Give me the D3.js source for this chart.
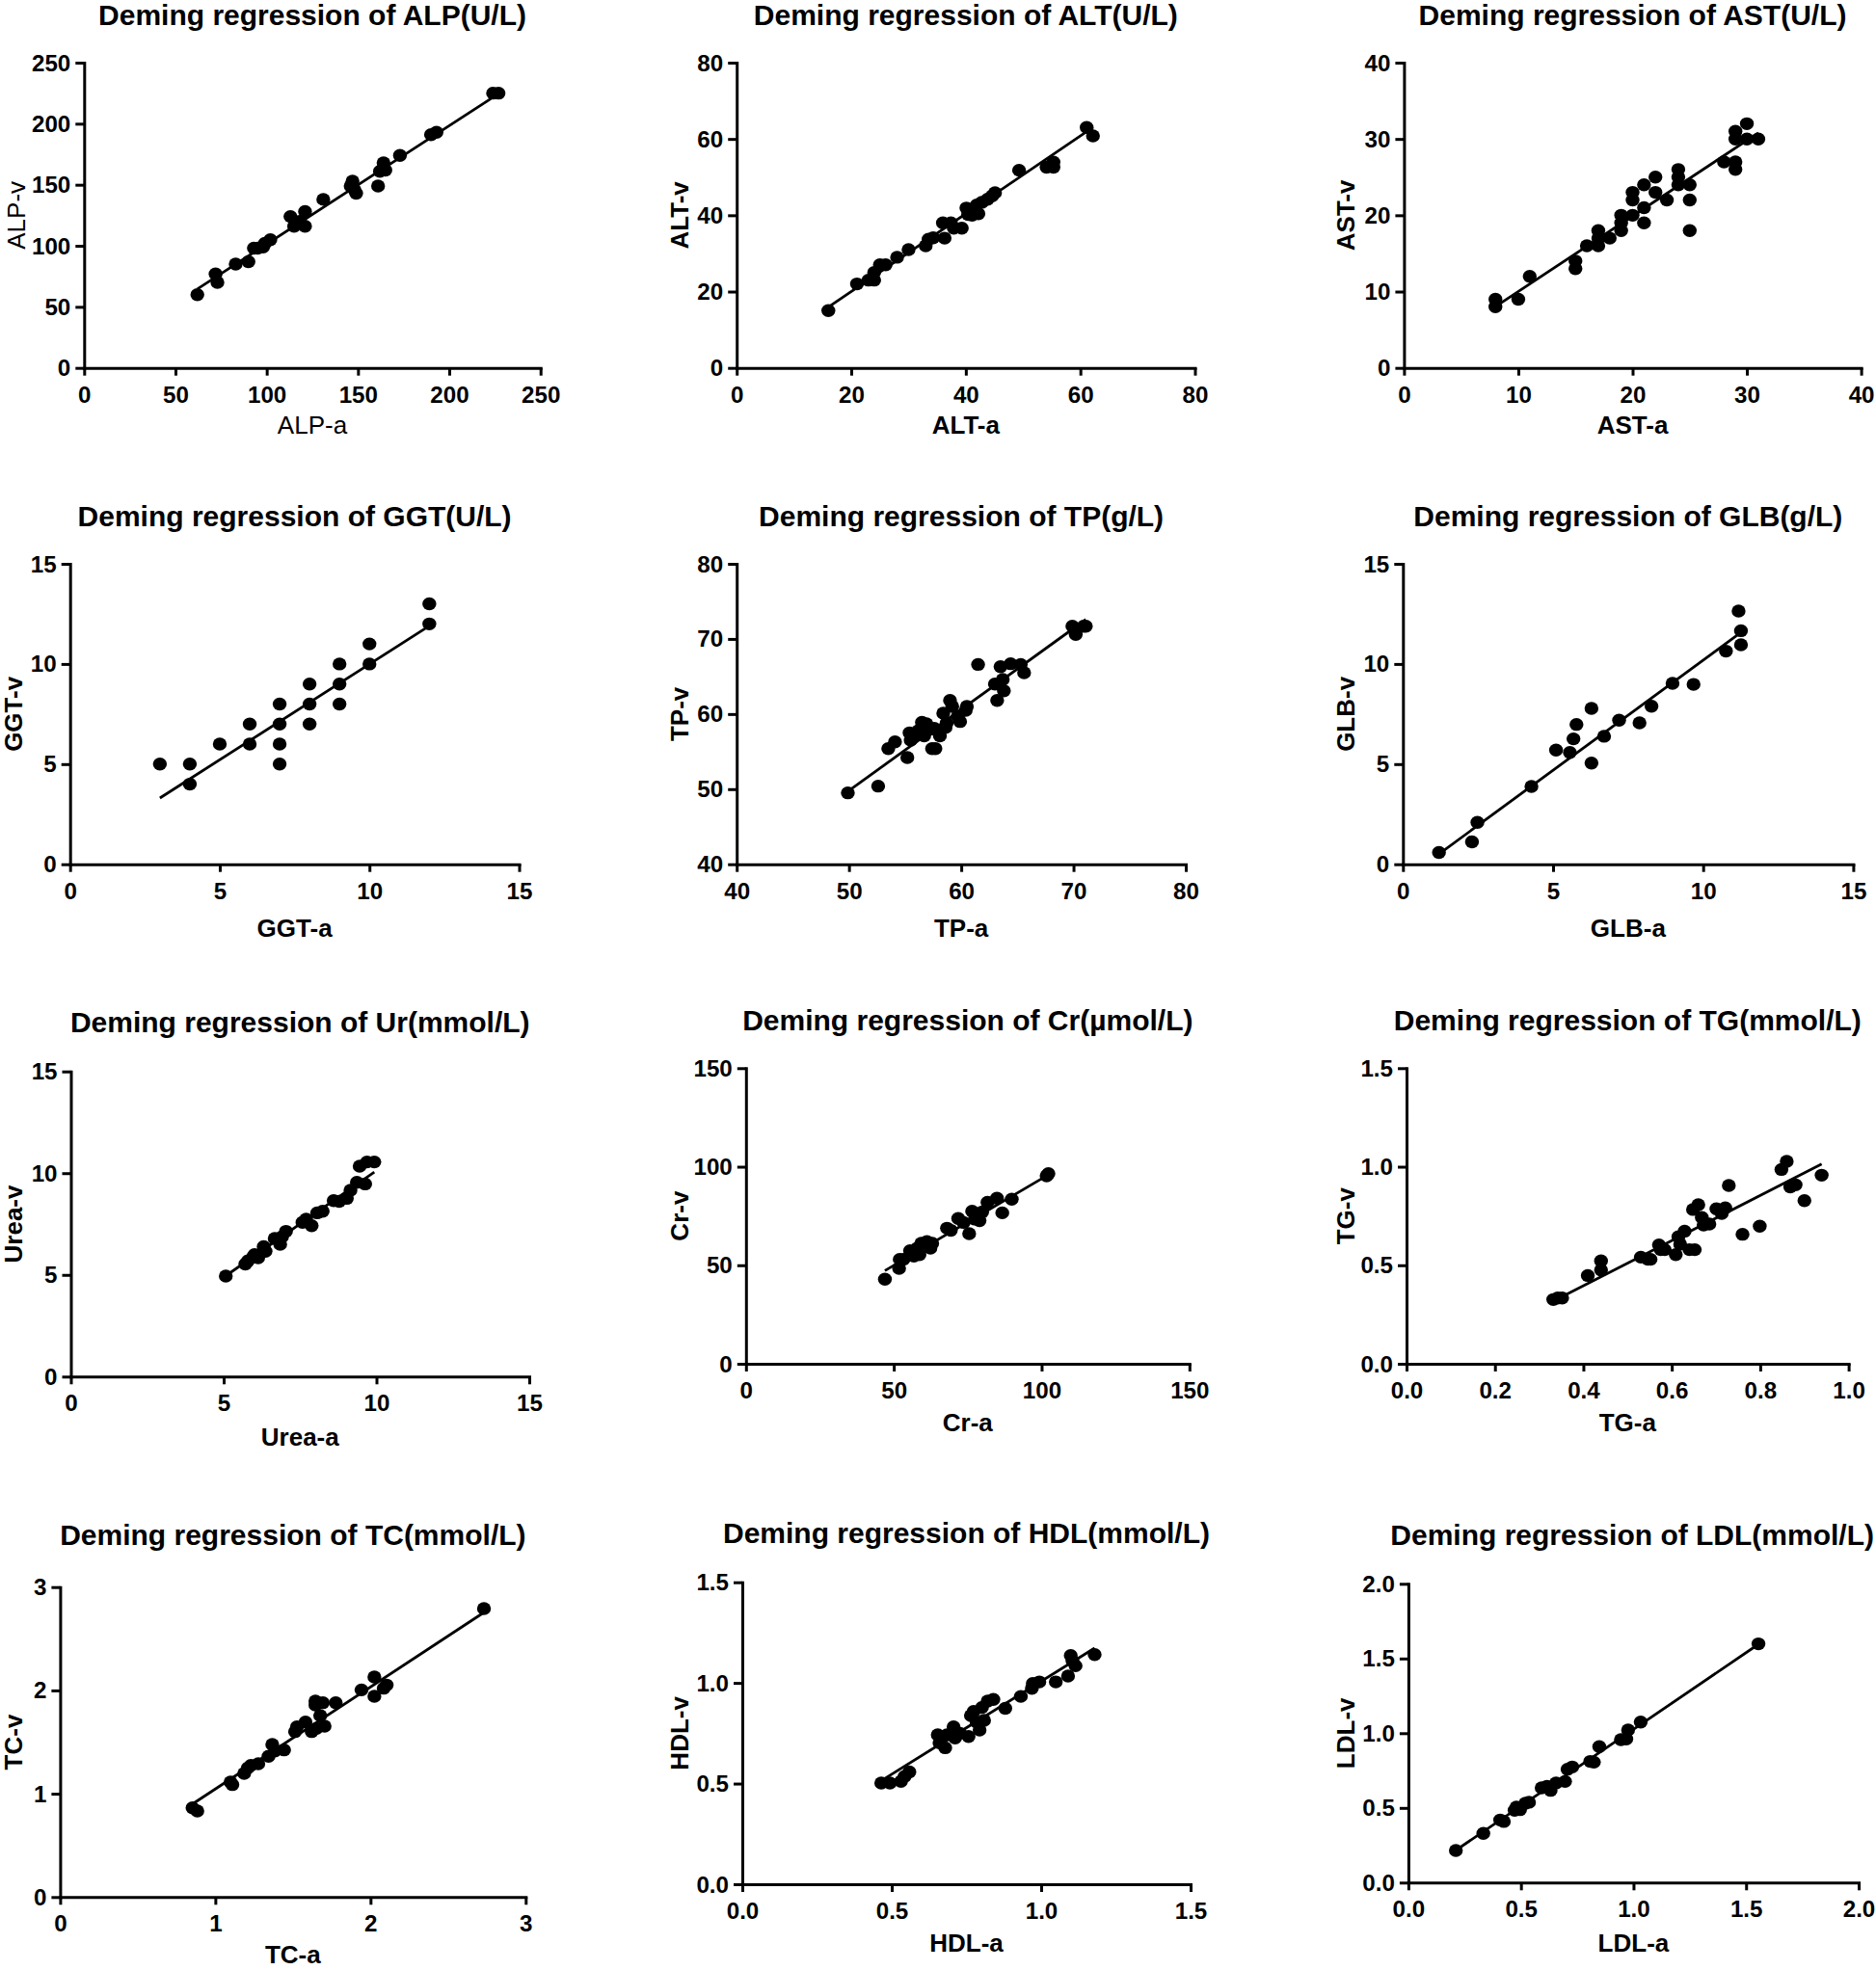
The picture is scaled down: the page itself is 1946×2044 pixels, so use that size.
<!DOCTYPE html>
<html>
<head>
<meta charset="utf-8">
<script src="https://cdn.jsdelivr.net/npm/d3@7"></script>
<style>
  html, body { margin: 0; padding: 0; background: #fff; }
  svg { display: block; }
  text { font-family: "Liberation Sans", Arial, sans-serif; fill: #000; }
</style>
</head>
<body>
<svg id="chart" width="1946" height="2044"></svg>
<script>
// ---------------- DATA ----------------
const titles = [
  "Deming regression of ALP(U/L)", "Deming regression of ALT(U/L)", "Deming regression of AST(U/L)",
  "Deming regression of GGT(U/L)", "Deming regression of TP(g/L)", "Deming regression of GLB(g/L)",
  "Deming regression of Ur(mmol/L)", "Deming regression of Cr(\u00b5mol/L)", "Deming regression of TG(mmol/L)",
  "Deming regression of TC(mmol/L)", "Deming regression of HDL(mmol/L)", "Deming regression of LDL(mmol/L)"
];
const xLabels = ["ALP-a","ALT-a","AST-a","GGT-a","TP-a","GLB-a","Urea-a","Cr-a","TG-a","TC-a","HDL-a","LDL-a"];
const yLabels = ["ALP-v","ALT-v","AST-v","GGT-v","TP-v","GLB-v","Urea-v","Cr-v","TG-v","TC-v","HDL-v","LDL-v"];

const ALP_a = [62,72,73,83,90,93,95,98,99,102,113,115,118,121,121,131,147,148,149,146,161,162,164,165,173,190,193,224,227];
const ALP_v = [60,77,70,85,87,98,98,99,102,105,124,116,120,128,116,138,153,146,143,149,149,161,168,162,174,191,193,225,225];
const ALP_fit = [0.97, 4.4];

const ALT_a = [16,21,23,24,24,25,26,28,30,33,33.5,34.3,36.3,36,37.4,37.9,39.3,40.1,40.4,41.1,42.2,41.9,42.8,43.8,44.6,45.1,49.3,54.1,55.3,55.3,61.1,62.2];
const ALT_v = [15,22,23,25,23,27,27,29,31,32,33.7,34.1,34,38,38,36.6,36.6,41.9,40.2,40,40.4,42.7,43.4,44.2,45.1,45.9,51.8,52.6,52.6,53.9,63,60.8];
const ALT_fit = [1.02, -0.4];

const AST_a = [8,8,10,11,15,15,16,17,17,17,18,19,19,19,20,20,20,21,21,21,22,22,23,24,24,24,25,25,25,28,29,29,29,29,30,30,31];
const AST_v = [9,8,9,12,14,13,16,18,17,16,17,20,19,18,23,22,20,24,21,19,25,23,22,26,25,24,24,22,18,27,31,30,27,26,32,30,30];
const AST_fit = [0.99, 0.1];

const GGT_a = [3,4,4,5,6,6,7,7,7,7,8,8,8,9,9,9,10,10,12,12];
const GGT_v = [5,5,4,6,7,6,8,7,6,5,9,8,7,10,9,8,11,10,13,12];
const GGT_fit = [0.955, 0.44];

const TP_a = [49.9,52.6,53.5,54.1,55.2,55.4,55.5,55.8,56.2,56.5,56.7,56.9,57.3,57.4,57.6,57.7,58.1,58.4,58.6,58.7,59,59.2,59.7,59.9,60.4,60.5,61.5,63,63.2,63.5,63.7,63.8,64.4,65.3,65.6,69.9,70.2,70.9,71.1];
const TP_v = [49.5,50.4,55.4,56.3,54.2,57.5,56.5,57.1,57.8,58.9,57.1,58.7,58,55.4,58.1,55.4,57.1,60.1,58.2,58.8,61.8,61,59.7,59,60.5,61,66.6,64,61.8,66.3,64.6,63.1,66.7,66.6,65.5,71.7,70.6,71.7,71.7];
const TP_fit = [1.08, -4.2];

const GLB_a = [1.2,2.3,2.48,4.28,5.1,5.56,5.68,5.78,6.28,6.28,6.7,7.2,7.88,8.28,8.98,9.68,10.76,11.18,11.26,11.26];
const GLB_v = [0.59,1.12,2.09,3.88,5.7,5.58,6.26,6.98,7.78,5.05,6.39,7.19,7.06,7.89,9.03,8.98,10.64,12.64,11.66,10.96];
const GLB_fit = [1.10, -0.81];

const Urea_a = [5.07,5.71,5.79,5.95,6.01,6.13,6.31,6.37,6.67,6.85,6.91,7.04,7.58,7.7,7.88,8.06,8.24,8.6,8.78,9.03,9.15,9.36,9.45,9.63,9.69,9.93];
const Urea_v = [4.94,5.53,5.68,5.87,6.0,5.84,6.39,6.16,6.79,6.5,6.87,7.14,7.58,7.74,7.42,8.05,8.13,8.65,8.61,8.76,9.16,9.55,10.34,9.47,10.55,10.55];
const Urea_fit = [1.05, -0.37];

const Cr_a = [47,51.8,52,53.3,55.5,56.8,58,58.7,59.3,61.2,62.4,63,68,69.3,71.8,73.6,75.5,76.5,77.4,79,79.9,81.7,84.9,86.7,89.9,101.7,102.3];
const Cr_v = [42.9,48.4,53,53,57.4,54.6,58.7,55.4,61.1,62,58.7,61.1,68.8,67.7,73.7,71.7,66,77.4,73.4,72.6,77,81.9,84,76.6,83.5,95.4,96.5];
const Cr_fit = [0.88, 5.9];

const TG_a = [0.332,0.342,0.352,0.41,0.44,0.44,0.53,0.546,0.552,0.571,0.575,0.584,0.609,0.615,0.619,0.629,0.64,0.652,0.648,0.66,0.668,0.672,0.685,0.701,0.713,0.721,0.729,0.76,0.799,0.848,0.86,0.868,0.88,0.90,0.939];
const TG_v = [0.326,0.334,0.334,0.448,0.476,0.522,0.541,0.53,0.53,0.603,0.579,0.579,0.554,0.644,0.607,0.673,0.579,0.579,0.783,0.807,0.742,0.704,0.709,0.786,0.763,0.791,0.905,0.657,0.698,0.986,1.027,0.897,0.908,0.828,0.957];
const TG_fit = [1.145, -0.062];

const TC_a = [0.853,0.884,1.098,1.11,1.186,1.21,1.229,1.277,1.343,1.367,1.443,1.384,1.514,1.526,1.581,1.621,1.645,1.645,1.652,1.676,1.693,1.704,1.776,1.942,2.025,2.025,2.085,2.104,2.731];
const TC_v = [0.864,0.833,1.113,1.088,1.197,1.25,1.275,1.29,1.362,1.477,1.424,1.414,1.601,1.648,1.694,1.601,1.896,1.859,1.632,1.756,1.881,1.654,1.881,2.005,2.13,1.943,2.021,2.052,2.792];
const TC_fit = [0.987, 0.059];

const HDL_a = [0.465,0.494,0.531,0.543,0.559,0.654,0.66,0.679,0.685,0.707,0.712,0.728,0.757,0.765,0.774,0.784,0.794,0.802,0.809,0.821,0.84,0.88,0.932,0.969,0.972,0.994,1.049,1.09,1.099,1.105,1.115,1.179];
const HDL_v = [0.503,0.503,0.511,0.535,0.558,0.742,0.702,0.678,0.742,0.782,0.726,0.75,0.734,0.838,0.858,0.806,0.766,0.878,0.814,0.91,0.918,0.874,0.933,0.973,0.997,1.005,1.005,1.034,1.136,1.109,1.085,1.141];
const HDL_fit = [0.923, 0.085];

const LDL_a = [0.211,0.333,0.408,0.424,0.472,0.48,0.496,0.52,0.536,0.592,0.616,0.632,0.656,0.696,0.707,0.728,0.808,0.824,0.848,0.944,0.968,0.976,1.032,1.555];
const LDL_v = [0.215,0.329,0.419,0.409,0.484,0.505,0.488,0.531,0.538,0.634,0.645,0.617,0.667,0.677,0.759,0.774,0.811,0.806,0.91,0.957,0.961,1.022,1.075,1.598];
const LDL_fit = [1.026, 0.0];

// tick values
const ALP_ticks = [0,50,100,150,200,250];
const ALT_ticks = [0,20,40,60,80];
const AST_ticks = [0,10,20,30,40];
const GGT_ticks = [0,5,10,15];
const TP_ticks = [40,50,60,70,80];
const GLB_ticks = [0,5,10,15];
const Urea_ticks = [0,5,10,15];
const Cr_ticks = [0,50,100,150];
const TG_xticks = [0,0.2,0.4,0.6,0.8,1.0];
const TG_yticks = [0,0.5,1.0,1.5];
const TC_ticks = [0,1,2,3];
const HDL_ticks = [0,0.5,1.0,1.5];
const LDL_ticks = [0,0.5,1.0,1.5,2.0];

// ---------------- LAYOUT (pixels) ----------------
// [left, right, top, bottom, titleY, yLabelX, xLabelY]
const layout = [
  [87.3, 560.7, 65, 381.7, 26, 26, 450],
  [764.2, 1239.5, 65, 381.7, 26, 714, 450],
  [1456.4, 1930.6, 65, 381.7, 26, 1405, 450],
  [72.7, 538.5, 585, 896.7, 546, 23, 972],
  [764.2, 1230, 585, 896.7, 546, 714, 972],
  [1455.3, 1922.4, 585, 896.7, 546, 1405, 972],
  [73.5, 549, 1111.7, 1428.3, 1071, 23, 1500],
  [773.8, 1233.8, 1108.3, 1415, 1069, 714, 1485],
  [1459, 1917.6, 1108.3, 1415, 1069, 1405, 1485],
  [62.4, 545.3, 1646.7, 1968.3, 1603, 23, 2037],
  [770, 1235, 1641.7, 1955, 1601, 714, 2025],
  [1460.9, 1928, 1643.3, 1953.3, 1603, 1405, 2025]
];

const f0 = d3.format("d"), f1 = d3.format(".1f");
const panels = [
  {a: ALP_a, v: ALP_v, fit: ALP_fit, xt: ALP_ticks, yt: ALP_ticks, fx: f0, fy: f0, boldLabels: false},
  {a: ALT_a, v: ALT_v, fit: ALT_fit, xt: ALT_ticks, yt: ALT_ticks, fx: f0, fy: f0, boldLabels: true},
  {a: AST_a, v: AST_v, fit: AST_fit, xt: AST_ticks, yt: AST_ticks, fx: f0, fy: f0, boldLabels: true},
  {a: GGT_a, v: GGT_v, fit: GGT_fit, xt: GGT_ticks, yt: GGT_ticks, fx: f0, fy: f0, boldLabels: true},
  {a: TP_a, v: TP_v, fit: TP_fit, xt: TP_ticks, yt: TP_ticks, fx: f0, fy: f0, boldLabels: true},
  {a: GLB_a, v: GLB_v, fit: GLB_fit, xt: GLB_ticks, yt: GLB_ticks, fx: f0, fy: f0, boldLabels: true},
  {a: Urea_a, v: Urea_v, fit: Urea_fit, xt: Urea_ticks, yt: Urea_ticks, fx: f0, fy: f0, boldLabels: true},
  {a: Cr_a, v: Cr_v, fit: Cr_fit, xt: Cr_ticks, yt: Cr_ticks, fx: f0, fy: f0, boldLabels: true},
  {a: TG_a, v: TG_v, fit: TG_fit, xt: TG_xticks, yt: TG_yticks, fx: f1, fy: f1, boldLabels: true},
  {a: TC_a, v: TC_v, fit: TC_fit, xt: TC_ticks, yt: TC_ticks, fx: f0, fy: f0, boldLabels: true},
  {a: HDL_a, v: HDL_v, fit: HDL_fit, xt: HDL_ticks, yt: HDL_ticks, fx: f1, fy: f1, boldLabels: true},
  {a: LDL_a, v: LDL_v, fit: LDL_fit, xt: LDL_ticks, yt: LDL_ticks, fx: f1, fy: f1, boldLabels: true}
];

// ---------------- DRAW ----------------
const svg = d3.select("#chart");
svg.append("rect").attr("width", 1946).attr("height", 2044).attr("fill", "#fff");

panels.forEach((p, i) => {
  const [L, R, T, B, titleY, ylabX, xlabY] = layout[i];
  const x = d3.scaleLinear().domain(d3.extent(p.xt)).range([L, R]);
  const y = d3.scaleLinear().domain(d3.extent(p.yt)).range([B, T]);
  const g = svg.append("g");

  // title (kept inside the page)
  const t = g.append("text")
    .attr("x", (L + R) / 2).attr("y", titleY)
    .attr("text-anchor", "middle")
    .attr("font-size", 30).attr("font-weight", "bold")
    .text(titles[i]);
  const w = t.node().getComputedTextLength();
  const cx = Math.min((L + R) / 2, 1944 - w / 2);
  t.attr("x", cx);

  // axes
  const xAxis = d3.axisBottom(x).tickValues(p.xt).tickSize(8).tickSizeOuter(0).tickFormat(p.fx);
  const yAxis = d3.axisLeft(y).tickValues(p.yt).tickSize(9).tickSizeOuter(0).tickFormat(p.fy);

  const gx = g.append("g").attr("transform", `translate(0,${B})`).call(xAxis);
  const gy = g.append("g").attr("transform", `translate(${L},0)`).call(yAxis);
  [gx, gy].forEach(ax => {
    ax.select(".domain").attr("stroke", "#000").attr("stroke-width", 3).attr("stroke-linecap", "square");
    ax.selectAll(".tick line").attr("stroke", "#000").attr("stroke-width", 3);
    ax.selectAll(".tick text")
      .attr("font-family", "'Liberation Sans', Arial, sans-serif")
      .attr("font-size", 23).attr("font-weight", "bold").attr("fill", "#000");
  });
  gx.selectAll(".tick text").attr("y", null).attr("dy", null)
    .attr("transform", "translate(0,36) scale(1.05,1)");
  gy.selectAll(".tick text").attr("x", null).attr("dy", null)
    .attr("transform", "translate(-14,8) scale(1.05,1)");

  // axis labels
  g.append("text")
    .attr("x", (L + R) / 2).attr("y", xlabY)
    .attr("text-anchor", "middle")
    .attr("font-size", 26).attr("font-weight", p.boldLabels ? "bold" : "normal")
    .text(xLabels[i]);
  g.append("text")
    .attr("transform", `translate(${ylabX},${(T + B) / 2}) rotate(-90)`)
    .attr("text-anchor", "middle")
    .attr("font-size", 26).attr("font-weight", p.boldLabels ? "bold" : "normal")
    .text(yLabels[i]);

  // regression line
  const [xmin, xmax] = d3.extent(p.a);
  const line = d3.line().x(d => x(d)).y(d => y(p.fit[0] * d + p.fit[1]));
  g.append("path").datum([xmin, xmax])
    .attr("d", line).attr("fill", "none").attr("stroke", "#000").attr("stroke-width", 2.8);

  // points
  g.append("g").selectAll("ellipse").data(p.a.map((d, k) => [d, p.v[k]])).join("ellipse")
    .attr("cx", d => x(d[0])).attr("cy", d => y(d[1]))
    .attr("rx", 7.2).attr("ry", 6.7).attr("fill", "#000");
});
</script>
</body>
</html>
